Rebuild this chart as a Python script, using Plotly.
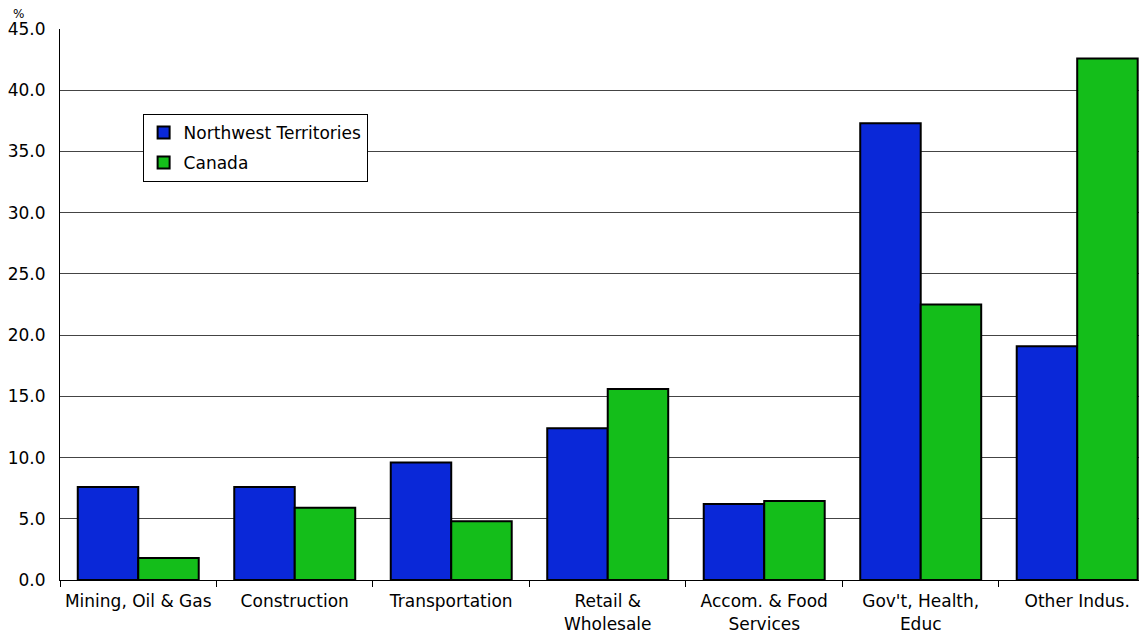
import plotly.graph_objects as go

categories = ["Mining, Oil & Gas", "Construction", "Transportation", "Retail &<br>Wholesale",
              "Accom. & Food<br>Services", "Gov't, Health,<br>Educ", "Other Indus."]
nwt = [7.6, 7.6, 9.6, 12.4, 6.2, 37.3, 19.1]
canada = [1.8, 5.9, 4.8, 15.6, 6.45, 22.5, 42.6]

fig = go.Figure()
fig.add_trace(go.Bar(name="Northwest Territories", x=categories, y=nwt, legendgroup="a",
                     marker=dict(color="#0A28D8", line=dict(color="black", width=2))))
fig.add_trace(go.Bar(name="Canada", x=categories, y=canada, legendgroup="b",
                     marker=dict(color="#14BE1A", line=dict(color="black", width=2))))

fig.update_layout(
    width=1147, height=635,
    margin=dict(l=52, r=8, t=21, b=63, autoexpand=False),
    paper_bgcolor="white", plot_bgcolor="white",
    barmode="group", bargap=0.227, bargroupgap=0,
    font=dict(family="DejaVu Sans, sans-serif", size=17, color="black"),
    legend=dict(x=0.076, y=0.846, xanchor="left", yanchor="top",
                bordercolor="black", borderwidth=1, bgcolor="white",
                font=dict(size=17), itemwidth=30, tracegroupgap=5),
    showlegend=True,
)
fig.update_xaxes(type="category", range=[-0.5, 6.446], tickson="boundaries",
                 ticks="outside", ticklen=6, tickcolor="black", automargin=False,
                 showline=True, linecolor="black", linewidth=1,
                 showgrid=False, tickfont=dict(size=17), ticklabelstandoff=6)
fig.update_yaxes(range=[0, 45], dtick=5, tickformat=".1f", automargin=False,
                 showline=True, linecolor="black", linewidth=1,
                 showgrid=True, gridcolor="#444444", gridwidth=1,
                 ticks="", tickfont=dict(size=17), zeroline=False,
                 ticklabelstandoff=10)
fig.add_annotation(text="%", xref="paper", yref="paper", x=-0.038, y=1.0,
                   xanchor="center", yanchor="bottom", showarrow=False,
                   font=dict(size=12), yshift=6)
fig.write_html("out.html")
